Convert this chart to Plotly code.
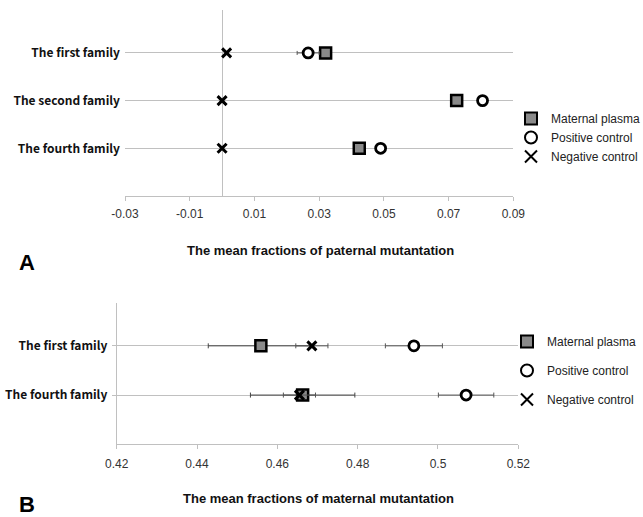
import plotly.graph_objects as go

# ---------------- Data: panel A (paternal mutation) ----------------
families_A = ["The first family", "The second family", "The fourth family"]
maternal_A = [0.0320, 0.0725, 0.0424]
maternal_A_err = [0.0008, 0.0008, 0.0008]
positive_A = [0.0266, 0.0805, 0.0490]
positive_A_err = [0.0034, 0.0010, 0.0005]
negative_A = [0.0014, 0.0000, 0.0000]
ticks_A = [-0.03, -0.01, 0.01, 0.03, 0.05, 0.07, 0.09]

# ---------------- Data: panel B (maternal mutation) ----------------
families_B = ["The first family", "The fourth family"]
maternal_B = [0.4559, 0.4663]
maternal_B_err = [0.0131, 0.0130]
positive_B = [0.4940, 0.5070]
positive_B_err = [0.0071, 0.0069]
negative_B = [0.4686, 0.4655]
negative_B_err = [0.0040, 0.0040]
ticks_B = [0.42, 0.44, 0.46, 0.48, 0.50, 0.52]
ticktext_B = ["0.42", "0.44", "0.46", "0.48", "0.5", "0.52"]

series_names = ["Maternal plasma", "Positive control", "Negative control"]

W, H = 643, 517
def px_x(p): return p / W
def px_y(p): return (H - p) / H

sq = dict(symbol="square", size=11, color="#8a8a8a", line=dict(color="black", width=2.5))
ci = dict(symbol="circle", size=10, color="white", line=dict(color="black", width=2.8))
xx = dict(symbol="x-thin", size=9, color="black", line=dict(color="black", width=3))

fig = go.Figure()

# Panel A
fig.add_trace(go.Scatter(x=maternal_A, y=families_A, mode="markers", name=series_names[0],
                         marker=sq, xaxis="x", yaxis="y", legend="legend",
                         error_x=dict(type="data", array=maternal_A_err, color="#444", thickness=1, width=2)))
fig.add_trace(go.Scatter(x=positive_A, y=families_A, mode="markers", name=series_names[1],
                         marker=ci, xaxis="x", yaxis="y", legend="legend",
                         error_x=dict(type="data", array=positive_A_err, color="#555", thickness=1, width=2)))
fig.add_trace(go.Scatter(x=negative_A, y=families_A, mode="markers", name=series_names[2],
                         marker=xx, xaxis="x", yaxis="y", legend="legend"))

# Panel B
fig.add_trace(go.Scatter(x=maternal_B, y=families_B, mode="markers", name=series_names[0],
                         marker=sq, xaxis="x2", yaxis="y2", legend="legend2", legendgroup="m",
                         error_x=dict(type="data", array=maternal_B_err, color="#444", thickness=1, width=2.5)))
fig.add_trace(go.Scatter(x=positive_B, y=families_B, mode="markers", name=series_names[1],
                         marker=ci, xaxis="x2", yaxis="y2", legend="legend2", legendgroup="p",
                         error_x=dict(type="data", array=positive_B_err, color="#555", thickness=1, width=2.5)))
fig.add_trace(go.Scatter(x=negative_B, y=families_B, mode="markers", name=series_names[2],
                         marker=xx, xaxis="x2", yaxis="y2", legend="legend2", legendgroup="n",
                         error_x=dict(type="data", array=negative_B_err, color="#555", thickness=1, width=2.5)))

tickfont = dict(family="Liberation Sans, Arial, sans-serif", size=12, color="#333")
catfont = dict(family="Noto Sans CJK KR, Noto Sans, sans-serif", size=12, color="#111", weight="bold")
titlefont = dict(family="Liberation Sans Narrow, Liberation Sans, Arial, sans-serif", size=13, color="#111", weight="bold")
legfont = dict(family="Liberation Sans, Arial, sans-serif", size=12, color="#222")
letterfont = dict(family="Liberation Sans, Arial, sans-serif", size=22, color="black", weight="bold")

fig.update_layout(
    width=W, height=H,
    margin=dict(l=0, r=0, t=0, b=0, autoexpand=False),
    paper_bgcolor="white", plot_bgcolor="white",
    xaxis=dict(domain=[px_x(125), px_x(513.3)], anchor="y", range=[-0.03, 0.09], automargin=False,
               tickvals=ticks_A, ticktext=["-0.03", "-0.01", "0.01", "0.03", "0.05", "0.07", "0.09"],
               showgrid=False, zeroline=True, zerolinecolor="#c0c0c0", zerolinewidth=1,
               showline=True, linecolor="#c0c0c0", linewidth=1,
               ticks="outside", ticklen=4, tickcolor="#c0c0c0", tickfont=tickfont,
               ticklabelstandoff=3),
    yaxis=dict(domain=[px_y(196), px_y(10)], anchor="x", type="category", automargin=False,
               categoryarray=families_A[::-1], categoryorder="array", range=[-1, 2.9],
               showgrid=True, gridcolor="#c0c0c0", gridwidth=1, showline=False, zeroline=False,
               ticks="", tickfont=catfont, ticklabelstandoff=4),
    xaxis2=dict(domain=[px_x(116.7), px_x(518.3)], anchor="y2", range=[0.42, 0.52], automargin=False,
                tickvals=ticks_B, ticktext=ticktext_B,
                showgrid=False, zeroline=False,
                showline=True, linecolor="#c0c0c0", linewidth=1,
                ticks="outside", ticklen=4, tickcolor="#c0c0c0", tickfont=tickfont,
                ticklabelstandoff=4),
    yaxis2=dict(domain=[px_y(444.3), px_y(303)], anchor="x2", type="category", automargin=False,
                categoryarray=families_B[::-1], categoryorder="array", range=[-1, 1.87],
                showgrid=True, gridcolor="#c0c0c0", gridwidth=1, showline=True,
                linecolor="#c0c0c0", linewidth=1, zeroline=False,
                ticks="outside", ticklen=4, tickcolor="#c0c0c0", tickfont=catfont,
                ticklabelstandoff=2),
    legend=dict(x=px_x(511), xanchor="left", y=px_y(104), yanchor="top",
                font=legfont, bgcolor="rgba(0,0,0,0)", itemsizing="constant"),
    legend2=dict(x=px_x(507), xanchor="left", y=px_y(327), yanchor="top",
                 font=legfont, bgcolor="rgba(0,0,0,0)", tracegroupgap=10, itemsizing="constant"),
    showlegend=True,
    annotations=[
        dict(text="The mean fractions of paternal mutantation", x=px_x(320), y=px_y(251),
             xanchor="center", yanchor="middle",
             xref="paper", yref="paper", showarrow=False, font=titlefont),
        dict(text="The mean fractions of maternal mutantation", x=px_x(318), y=px_y(498),
             xanchor="center", yanchor="middle",
             xref="paper", yref="paper", showarrow=False, font=titlefont),
        dict(text="A", x=px_x(27), y=px_y(262), xanchor="center", yanchor="middle",
             xref="paper", yref="paper", showarrow=False, font=letterfont),
        dict(text="B", x=px_x(27), y=px_y(504), xanchor="center", yanchor="middle",
             xref="paper", yref="paper", showarrow=False, font=letterfont),
    ],
)

fig.write_html("out.html",
               config={"displayModeBar": False},
               post_script="document.body.style.margin='0';document.body.style.padding='0';")
